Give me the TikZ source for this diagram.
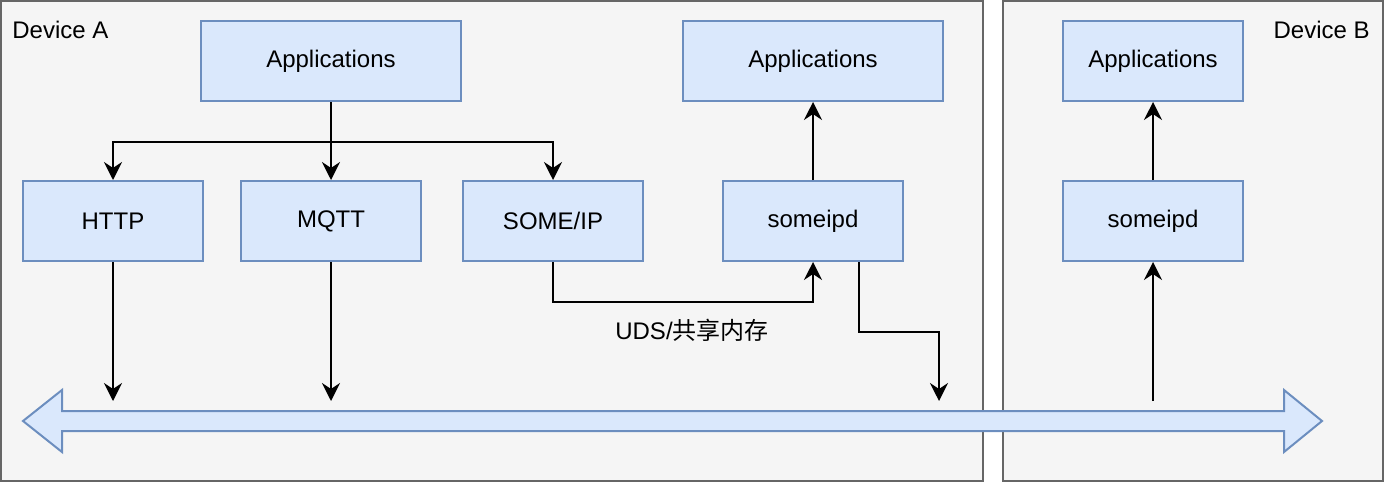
\documentclass[tikz,border=0pt]{standalone}
\usepackage{fontspec}
\setmainfont{Liberation Sans}
\newfontfamily\cjkfont{Noto Sans CJK SC}
\usetikzlibrary{arrows.meta}

\definecolor{boxfill}{HTML}{DAE8FC}
\definecolor{boxline}{HTML}{6C8EBF}
\definecolor{devfill}{HTML}{F5F5F5}
\definecolor{devline}{HTML}{666666}

\begin{document}
\begin{tikzpicture}[x=0.5pt,y=-0.5pt,
  device/.style={draw=devline,fill=devfill,line width=1pt},
  blk/.style={draw=boxline,fill=boxfill,line width=1pt,
    font=\fontsize{12}{14}\selectfont,minimum height=40pt,inner sep=0pt},
  wide/.style={blk,minimum width=130pt},
  narrow/.style={blk,minimum width=90pt},
  txt/.style={font=\fontsize{12}{14}\selectfont,inner sep=0pt},
  arr/.style={-{Stealth[length=9pt,width=9pt,inset=3pt]},line width=1pt}]
\useasboundingbox (0,0) rectangle (1386,482);
% the two devices
\draw[device] (1,1) rectangle (983,481);
\draw[device] (1003,1) rectangle (1383,481);
\node[txt,anchor=west] (labA) at (12,30) {Device A};
\node[txt,anchor=east] (labB) at (1370,30) {Device B};
% bus
\draw[draw=boxline,fill=boxfill,line width=1pt]
  (23,421) -- (62,390) -- (62,411) -- (1284,411) -- (1284,390) -- (1322,421)
  -- (1284,452) -- (1284,431) -- (62,431) -- (62,452) -- cycle;
\coordinate (busHttp) at (113,401);
\coordinate (busMqtt) at (331,401);
\coordinate (busA) at (939,401);
\coordinate (busB) at (1153,401);
% blocks
\node[wide] (appA) at (331,61) {Applications};
\node[wide] (appC) at (813,61) {Applications};
\node[narrow] (appB) at (1153,61) {Applications};
\node[narrow] (http) at (113,221) {HTTP};
\node[narrow] (mqtt) at (331,221) {MQTT};
\node[narrow] (someip) at (553,221) {SOME/IP};
\node[narrow] (daemonA) at (813,221) {someipd};
\node[narrow] (daemonB) at (1153,221) {someipd};
\node[txt] (uds) at (692,330) {UDS/{\cjkfont 共享内存}};
% links
\draw[arr] (appA) -- (mqtt);
\draw[arr] (appA.south) ++(0,40) -| (http);
\draw[arr] (appA.south) ++(0,40) -| (someip);
\draw[arr] (someip.south) -- ++(0,40) -| (daemonA.south);
\draw[arr] (daemonA) -- (appC);
\draw[arr] (daemonA.south east) ++(-45,0) -- ++(0,70) -| (busA);
\draw[arr] (http) -- (busHttp);
\draw[arr] (mqtt) -- (busMqtt);
\draw[arr] (busB) -- (daemonB);
\draw[arr] (daemonB) -- (appB);
\end{tikzpicture}
\end{document}
